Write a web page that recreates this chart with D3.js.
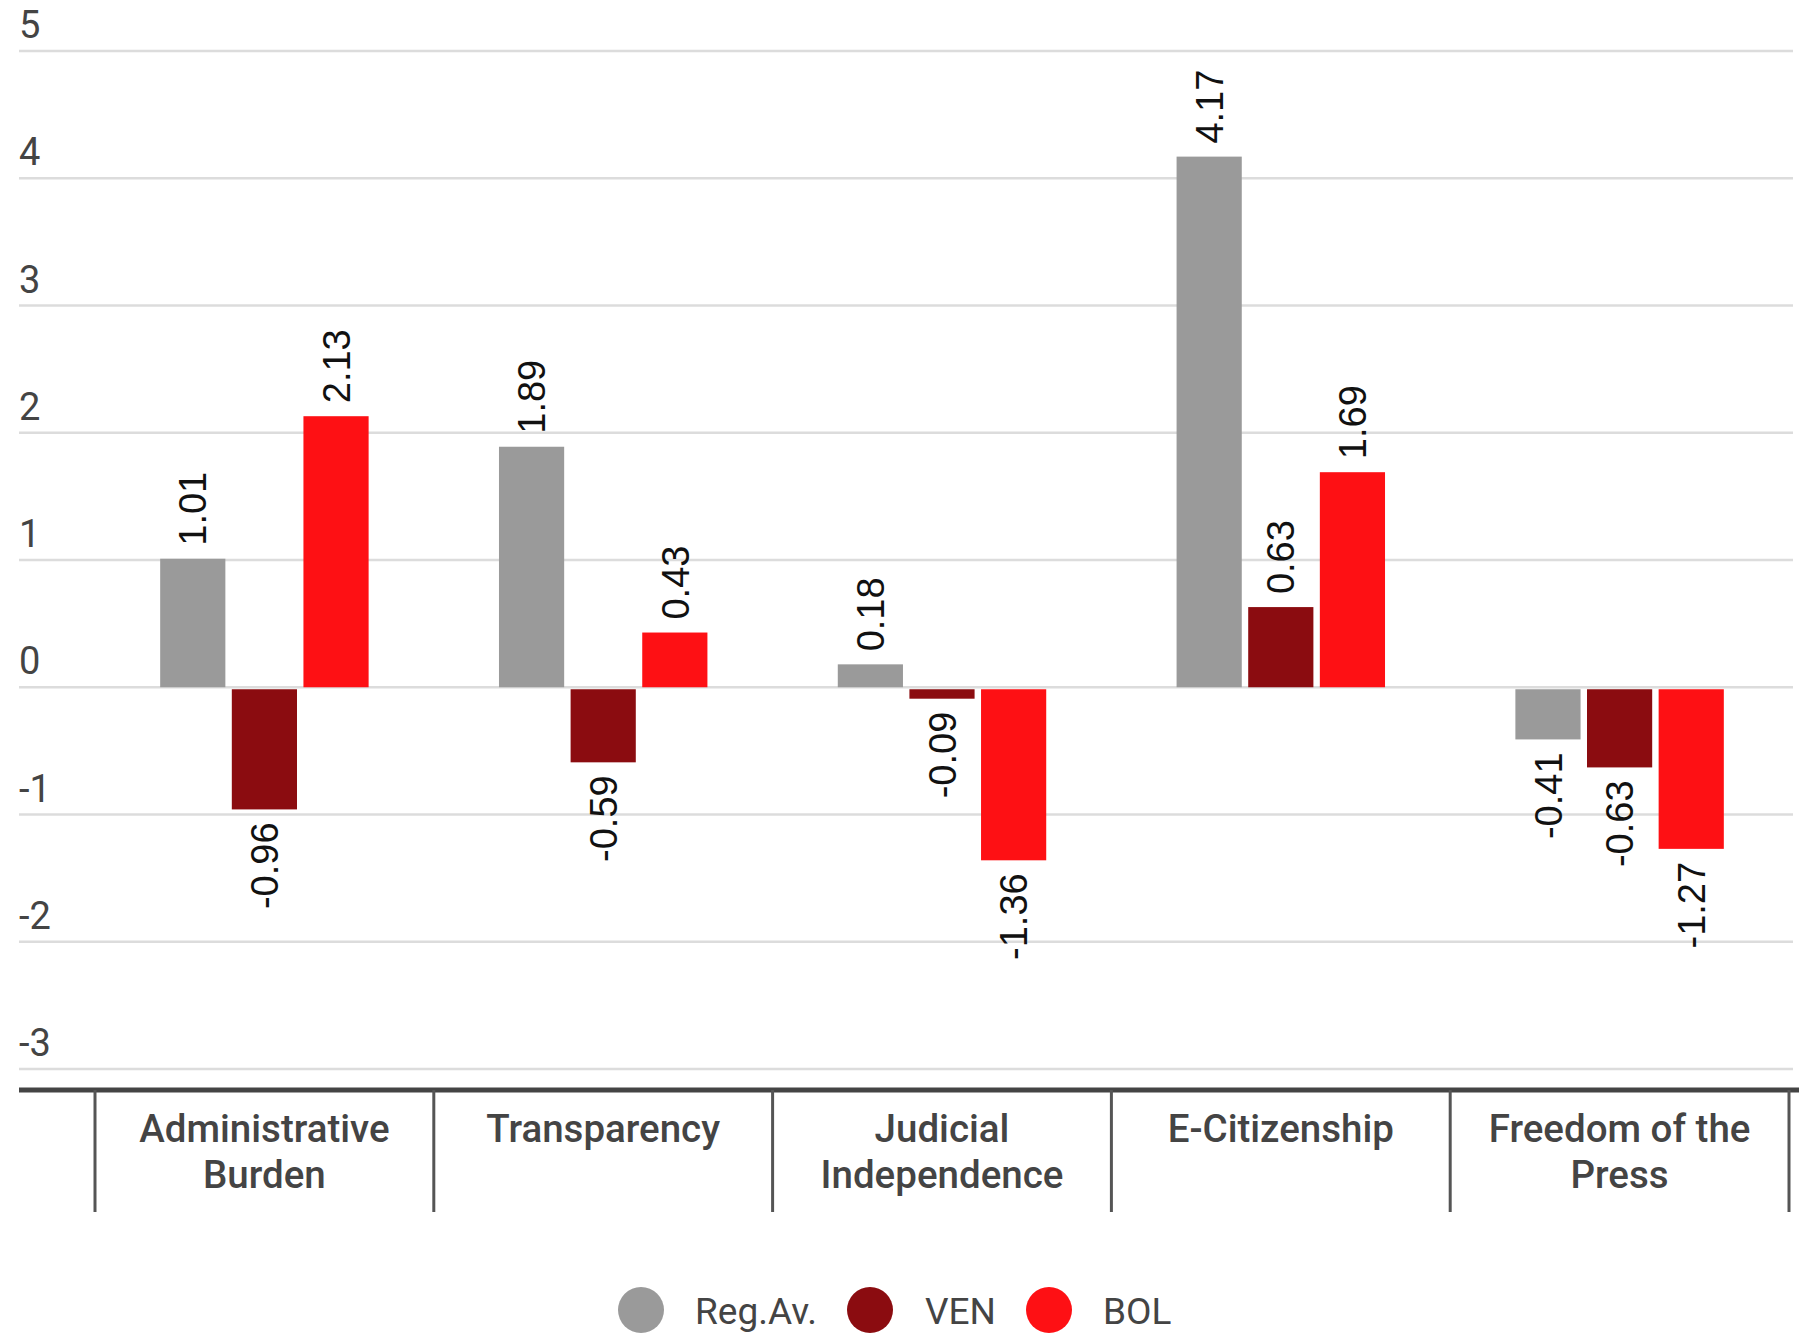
<!DOCTYPE html>
<html>
<head>
<meta charset="utf-8">
<script src="https://cdn.jsdelivr.net/npm/d3@7"></script>
<style>
  html, body { margin: 0; padding: 0; background: #fff; }
  svg { display: block; }
</style>
</head>
<body>
<svg id="chart" width="1808" height="1333"></svg>
<script>
// Governance indicators: regional average vs. Venezuela and Bolivia
const categories = [
  ["Administrative", "Burden"],
  ["Transparency"],
  ["Judicial", "Independence"],
  ["E-Citizenship"],
  ["Freedom of the", "Press"]
];
const seriesNames = ["Reg.Av.", "VEN", "BOL"];
const regAv = [1.01, 1.89, 0.18, 4.17, -0.41];
const ven   = [-0.96, -0.59, -0.09, 0.63, -0.63];
const bol   = [2.13, 0.43, -1.36, 1.69, -1.27];
const yTicks = [-3, -2, -1, 0, 1, 2, 3, 4, 5];
const colors = ["#9a9a9a", "#8b0c10", "#fe1014"];

const seriesValues = [regAv, ven, bol];
const catKeys = categories.map(c => c.join(" "));

const svg = d3.select("#chart");

const y = d3.scaleLinear().domain([-3, 5]).range([1069, 51]);
const x0 = d3.scaleBand().domain(catKeys).range([95, 1789]).padding(0);
const x1 = d3.scaleBand().domain(seriesNames).range([0, x0.bandwidth()])
  .paddingInner(0.09).paddingOuter(0.91);

// value labels use a plain hyphen for negatives
const fmt = v => d3.format(".2f")(v).replace("\u2212", "-");

// horizontal grid
svg.append("g").selectAll("line").data(yTicks).join("line")
  .attr("x1", 19).attr("x2", 1793)
  .attr("y1", d => y(d)).attr("y2", d => y(d))
  .attr("stroke", "#dcdcdc").attr("stroke-width", 2.5);

// y tick labels, sitting above their grid lines
svg.append("g").selectAll("text").data(yTicks).join("text")
  .attr("x", 19).attr("y", d => y(d) - 13)
  .attr("font-family", "Roboto, sans-serif").attr("font-size", 38)
  .attr("fill", "#444")
  .text(d => d);

// bars
const groups = svg.append("g").selectAll("g").data(catKeys).join("g")
  .attr("transform", d => `translate(${x0(d)},0)`);

groups.each(function (c, ci) {
  const g = d3.select(this);
  const data = seriesNames.map((s, si) => ({ s, si, v: seriesValues[si][ci] }));
  g.selectAll("rect").data(data).join("rect")
    .attr("x", d => x1(d.s))
    .attr("width", x1.bandwidth())
    .attr("y", d => d.v >= 0 ? y(d.v) : y(0) + 2)
    .attr("height", d => d.v >= 0 ? y(0) - y(d.v) : y(d.v) - y(0) - 2)
    .attr("fill", d => colors[d.si]);

  g.selectAll("text").data(data).join("text")
    .attr("transform", d => {
      const cx = x1(d.s) + x1.bandwidth() / 2;
      const cy = d.v >= 0 ? y(d.v) - 13 : y(d.v) + 13;
      return `translate(${cx},${cy}) rotate(-90)`;
    })
    .attr("dy", "0.36em")
    .attr("text-anchor", d => d.v >= 0 ? "start" : "end")
    .attr("font-family", "'Liberation Sans', Arial, sans-serif")
    .attr("font-size", 38)
    .attr("fill", "#111")
    .text(d => fmt(d.v));
});

// category axis: baseline, separators and labels
svg.append("line")
  .attr("x1", 19).attr("x2", 1799).attr("y1", 1090).attr("y2", 1090)
  .attr("stroke", "#444").attr("stroke-width", 5);

const seps = catKeys.map(k => x0(k)).concat([x0(catKeys[catKeys.length - 1]) + x0.bandwidth()]);
svg.append("g").selectAll("line").data(seps).join("line")
  .attr("x1", d => d).attr("x2", d => d)
  .attr("y1", 1090).attr("y2", 1212)
  .attr("stroke", "#555").attr("stroke-width", 3);

svg.append("g").selectAll("text").data(categories).join("text")
  .attr("x", (d, i) => x0(catKeys[i]) + x0.bandwidth() / 2)
  .attr("y", 1142)
  .attr("text-anchor", "middle")
  .attr("font-family", "Roboto, sans-serif").attr("font-size", 38.5)
  .attr("font-weight", 500).attr("fill", "#444")
  .each(function (lines) {
    d3.select(this).selectAll("tspan").data(lines).join("tspan")
      .attr("x", d3.select(this).attr("x"))
      .attr("dy", (d, i) => i === 0 ? 0 : 46)
      .text(d => d);
  });

// legend
const legendItems = [
  { cx: 641, tx: 695 },
  { cx: 870, tx: 925 },
  { cx: 1049, tx: 1103 }
];
const leg = svg.append("g").selectAll("g").data(seriesNames).join("g");
leg.append("circle")
  .attr("cx", (d, i) => legendItems[i].cx).attr("cy", 1310)
  .attr("r", 23)
  .attr("fill", (d, i) => colors[i]);
leg.append("text")
  .attr("x", (d, i) => legendItems[i].tx).attr("y", 1324)
  .attr("font-family", "Roboto, sans-serif").attr("font-size", 37)
  .attr("fill", "#444")
  .text(d => d);
</script>
</body>
</html>
